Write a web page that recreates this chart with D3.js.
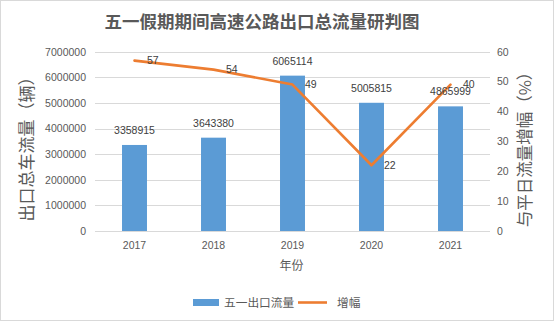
<!DOCTYPE html>
<html><head><meta charset="utf-8">
<script src="https://cdn.jsdelivr.net/npm/d3@7"></script>
<style>html,body{margin:0;padding:0;background:#fff;}svg{display:block;}</style>
</head><body>
<script>
const years = ["2017","2018","2019","2020","2021"];
const flow = [3358915, 3643380, 6065114, 5005815, 4865999];
const growth = [57, 54, 49, 22, 49];
const growthLabels = ["57", "54", "49", "22", "40"];
const leftTicks = [0,1000000,2000000,3000000,4000000,5000000,6000000,7000000];
const rightTicks = [0,10,20,30,40,50,60];
const title = "五一假期期间高速公路出口总流量研判图";
const leftTitle = "出口总车流量（辆）";
const rightTitle = "与平日流量增幅（%）";
const xTitle = "年份";
const seriesNames = ["五一出口流量", "增幅"];

const W = 555, H = 322;
const cBar = "#5B9BD5", cLine = "#ED7D31", cText = "#595959", cLbl = "#404040", cGrid = "#D9D9D9";
const numFont = "'Liberation Sans', Arial, sans-serif";
const cjkFont = "'Noto Sans CJK SC', 'Noto Sans', sans-serif";

const svg = d3.select("body").append("svg").attr("width", W).attr("height", H);
svg.append("rect").attr("x",0.5).attr("y",0.5).attr("width",553).attr("height",320)
  .attr("fill","#fff").attr("stroke",cGrid);

const x = d3.scaleBand().domain(years).range([95, 490]).paddingInner(0.684).paddingOuter(0.342);
const yL = d3.scaleLinear().domain([0, 7000000]).range([231, 51.7]);
const yR = d3.scaleLinear().domain([0, 60]).range([231, 51.7]);
const cx = d => x(d) + x.bandwidth()/2;

// gridlines
svg.append("g").selectAll("line").data(leftTicks).join("line")
  .attr("x1",95).attr("x2",490).attr("y1",d=>Math.round(yL(d))+0.5).attr("y2",d=>Math.round(yL(d))+0.5)
  .attr("stroke",cGrid).attr("stroke-width",1);

// left axis
const gl = svg.append("g").attr("transform","translate(86,0)")
  .call(d3.axisLeft(yL).tickValues(leftTicks).tickSize(0).tickPadding(0).tickFormat(d3.format("d")));
gl.select(".domain").remove();
gl.selectAll("text").attr("fill",cText).attr("font-family",numFont).attr("font-size","10.5px");

// right axis
const gr = svg.append("g").attr("transform","translate(497,0)")
  .call(d3.axisRight(yR).tickValues(rightTicks).tickSize(0).tickPadding(0).tickFormat(d3.format("d")));
gr.select(".domain").remove();
gr.selectAll("text").attr("fill",cText).attr("font-family",numFont).attr("font-size","10.5px");

// bars
svg.append("g").selectAll("rect").data(years).join("rect")
  .attr("x",d=>x(d)).attr("width",x.bandwidth())
  .attr("y",(d,i)=>yL(flow[i])).attr("height",(d,i)=>yL(0)-yL(flow[i]))
  .attr("fill",cBar);

// bottom axis
const gb = svg.append("g").attr("transform","translate(0,231.5)")
  .call(d3.axisBottom(x).tickSize(0).tickPadding(10));
gb.select(".domain").attr("stroke","#D9D9D9").attr("d","M95,0H490");
gb.selectAll("text").attr("fill",cText).attr("font-family",numFont).attr("font-size","10.5px");

// line
const line = d3.line().x((d,i)=>cx(years[i])).y(d=>yR(d));
svg.append("path").datum(growth).attr("d",line).attr("fill","none")
  .attr("stroke",cLine).attr("stroke-width",2.6).attr("stroke-linejoin","round").attr("stroke-linecap","round");

// bar labels
svg.append("g").selectAll("text").data(years).join("text")
  .attr("x",d=>cx(d)).attr("y",(d,i)=>yL(flow[i])-11)
  .attr("text-anchor","middle").attr("fill",cLbl).attr("font-family",numFont).attr("font-size","10.5px")
  .text((d,i)=>flow[i]);

// line labels
svg.append("g").selectAll("text").data(years).join("text")
  .attr("x",d=>cx(d)+12.5).attr("y",(d,i)=>yR(growth[i])).attr("dy","0.36em")
  .attr("fill",cLbl).attr("font-family",numFont).attr("font-size","10.5px")
  .text((d,i)=>growthLabels[i]);

// title
svg.append("text").attr("x",262).attr("y",28).attr("text-anchor","middle")
  .attr("fill",cText).attr("font-family",cjkFont).attr("font-weight","bold").attr("font-size","17.5px")
  .text(title);

// axis titles
svg.append("text").attr("transform","translate(33,145) rotate(-90)").attr("text-anchor","middle")
  .attr("fill",cText).attr("font-family",cjkFont).attr("font-size","17px").text(leftTitle);
svg.append("text").attr("transform","translate(531,145.5) rotate(-90)").attr("text-anchor","middle")
  .attr("fill",cText).attr("font-family",cjkFont).attr("font-size","16.5px").text(rightTitle);
svg.append("text").attr("x",291.5).attr("y",270).attr("text-anchor","middle")
  .attr("fill",cText).attr("font-family",cjkFont).attr("font-size","12px").text(xTitle);

// legend
const lg = svg.append("g");
lg.append("rect").attr("x",193).attr("y",299).attr("width",26).attr("height",7).attr("fill",cBar);
lg.append("text").attr("x",224).attr("y",302.5).attr("dy","0.35em").attr("fill",cText)
  .attr("font-family",cjkFont).attr("font-size","11.7px").text(seriesNames[0]);
lg.append("line").attr("x1",298).attr("x2",327).attr("y1",302.5).attr("y2",302.5)
  .attr("stroke",cLine).attr("stroke-width",2.6);
lg.append("text").attr("x",337).attr("y",302.5).attr("dy","0.35em").attr("fill",cText)
  .attr("font-family",cjkFont).attr("font-size","11.7px").text(seriesNames[1]);
</script>
</body></html>
